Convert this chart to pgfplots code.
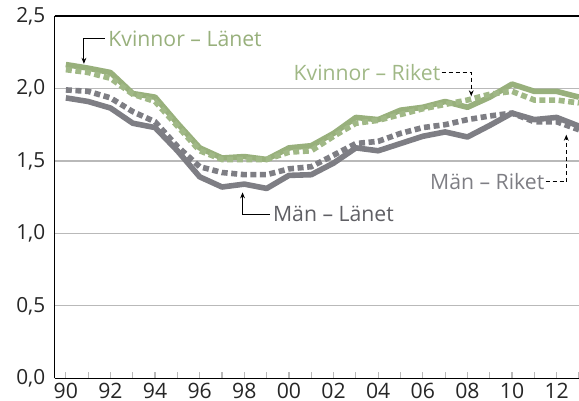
\documentclass[border=0pt]{standalone}
\usepackage{pgfplots}
\pgfplotsset{compat=1.18}
\usepackage{pgfplotstable}
\usepackage{fontspec}
\setmainfont{Open Sans}
\usetikzlibrary{arrows.meta}
\definecolor{kgreen}{RGB}{152,176,124}
\definecolor{kgreenl}{RGB}{160,184,134}
\definecolor{mgray}{RGB}{126,126,132}
\definecolor{tgray}{RGB}{95,95,100}
\definecolor{gridc}{RGB}{185,185,185}
\pgfplotstableread{
year KL KR ML MR
1990 2.165 2.13 1.935 1.99
1991 2.14 2.11 1.91 1.98
1992 2.11 2.07 1.865 1.935
1993 1.965 1.96 1.76 1.84
1994 1.94 1.91 1.73 1.77
1995 1.76 1.74 1.57 1.60
1996 1.59 1.57 1.39 1.46
1997 1.52 1.51 1.32 1.42
1998 1.53 1.51 1.34 1.405
1999 1.51 1.51 1.31 1.405
2000 1.59 1.56 1.40 1.445
2001 1.605 1.57 1.405 1.46
2002 1.69 1.67 1.485 1.54
2003 1.80 1.76 1.59 1.62
2004 1.785 1.78 1.57 1.635
2005 1.85 1.82 1.62 1.69
2006 1.87 1.86 1.67 1.73
2007 1.91 1.89 1.70 1.75
2008 1.87 1.92 1.665 1.785
2009 1.94 1.96 1.745 1.81
2010 2.03 1.98 1.83 1.83
2011 1.98 1.92 1.785 1.77
2012 1.98 1.92 1.80 1.77
2013 1.94 1.90 1.74 1.715
}\data
\begin{document}
\fontsize{10.6}{12}\selectfont
\begin{tikzpicture}
\begin{axis}[
  at={(0,0)}, anchor=south west,
  scale only axis,
  width=262.15pt, height=181.15pt,
  xmin=1989.5, xmax=2013,
  ymin=0, ymax=2.5,
  separate axis lines,
  axis x line*=bottom, axis y line*=left,
  axis line style={black, line width=0.6pt},
  xtick={1990,...,2013},
  xticklabels={90,,92,,94,,96,,98,,00,,02,,04,,06,,08,,10,,12,},
  x tick style={gridc, line width=0.6pt},
  xtick align=inside,
  major tick length=3pt,
  ytick={0,0.5,...,2.5},
  y tick style={draw=none},
  ymajorgrids,
  major grid style={gridc, line width=0.6pt},
  /pgf/number format/.cd, use comma, fixed, fixed zerofill, precision=1, assume math mode=true,
  /pgfplots/.cd,
  yticklabel style={font=\fontsize{10.4}{12}\selectfont, text=black!85, xshift=-1pt},
  xticklabel style={font=\fontsize{10.6}{12}\selectfont, text=black!85, yshift=1.5pt},
  clip=true,
]
\addplot[kgreen, line width=2.8pt, line join=round] table[x=year, y=KL] {\data};
\addplot[mgray, line width=2.8pt, line join=round] table[x=year, y=ML] {\data};
\addplot[kgreenl, line width=2.8pt, dash pattern=on 3pt off 1.8pt] table[x=year, y=KR] {\data};
\addplot[mgray, line width=2.8pt, dash pattern=on 3pt off 1.8pt] table[x=year, y=MR] {\data};
\draw[black, line width=0.6pt] (rel axis cs:0,1) -- (rel axis cs:1,1);
% annotations
\draw[black, line width=0.5pt, -{Stealth[length=3pt,width=2.4pt]}] (axis cs:1991.75,2.345) -- (axis cs:1990.81,2.345) -- (axis cs:1990.81,2.17);
\node[anchor=west, text=kgreen, inner sep=0pt] at (axis cs:1991.89,2.345) {Kvinnor – Länet};
\draw[black, line width=0.5pt, -{Stealth[length=3pt,width=2.4pt]}] (axis cs:1999.14,1.133) -- (axis cs:1997.92,1.133) -- (axis cs:1997.92,1.283);
\node[anchor=west, text=tgray, inner sep=0pt] at (axis cs:1999.27,1.133) {Män – Länet};
\draw[black, line width=0.5pt, dash pattern=on 2pt off 1.5pt, -{Stealth[length=3pt,width=2.4pt]}] (axis cs:2006.84,2.112) -- (axis cs:2008.17,2.112) -- (axis cs:2008.17,1.946);
\node[anchor=east, text=kgreenl, inner sep=0pt] at (axis cs:2006.8,2.112) {Kvinnor – Riket};
\draw[black, line width=0.5pt, dash pattern=on 2pt off 1.5pt, -{Stealth[length=3pt,width=2.4pt]}] (axis cs:2011.5,1.355) -- (axis cs:2012.43,1.355) -- (axis cs:2012.43,1.681);
\node[anchor=east, text=mgray, inner sep=0pt] at (axis cs:2011.46,1.355) {Män – Riket};
\end{axis}
\pgfresetboundingbox
\useasboundingbox (-27.35pt,-11.35pt) rectangle (262.15pt,189.15pt);
\end{tikzpicture}
\end{document}
